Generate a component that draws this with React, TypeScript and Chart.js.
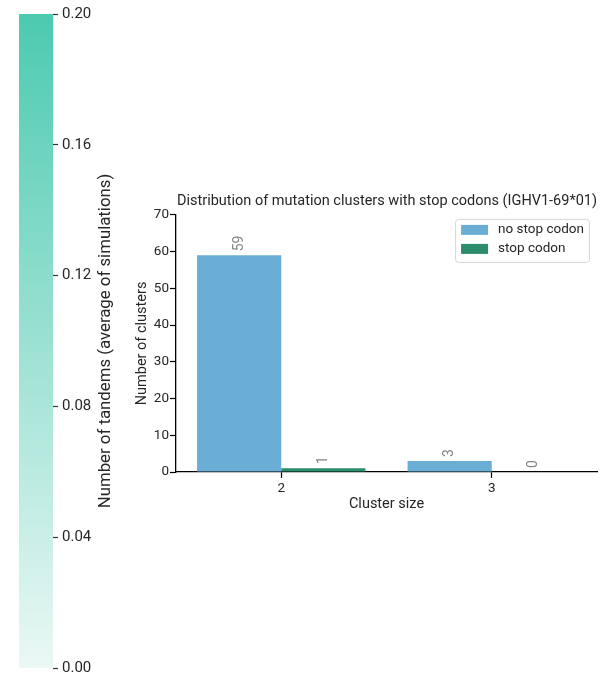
import React, { useEffect, useRef } from 'react';
import { Chart, registerables } from 'chart.js';
Chart.register(...registerables);

const categories = ['2', '3'];
const seriesLabels = ['no stop codon', 'stop codon'];
const noStopValues = [59, 3];
const stopValues = [1, 0];
const seriesColors = ['#6aaed6', '#2c8c6b'];
const yMax = 70;
const yStep = 10;
const chartTitle = 'Distribution of mutation clusters with stop codons (IGHV1-69*01)';
const xTitle = 'Cluster size';
const yTitle = 'Number of clusters';

const colorbarTicks = [0, 0.04, 0.08, 0.12, 0.16, 0.2];
const colorbarMax = 0.2;
const colorbarTitle = 'Number of tandems (average of simulations)';
const colorbarLow = '#eaf8f5';
const colorbarHigh = '#4ccab0';

const FONT = 'Roboto, "Noto Sans", sans-serif';
const TEXT = '#262626';

const valueLabelPlugin = {
  id: 'valueLabels',
  afterDatasetsDraw(chart: any) {
    const c = chart.ctx;
    chart.data.datasets.forEach((ds: any, i: number) => {
      const meta = chart.getDatasetMeta(i);
      meta.data.forEach((el: any, j: number) => {
        c.save();
        c.translate(el.x, el.y - 4);
        c.rotate(-Math.PI / 2);
        c.font = `14px ${FONT}`;
        c.fillStyle = '#858585';
        c.textAlign = 'left';
        c.textBaseline = 'middle';
        c.fillText(String(ds.data[j]), 0, 0);
        c.restore();
      });
    });
  },
};

const boxLegendPlugin = {
  id: 'boxLegend',
  afterDraw(chart: any) {
    const c = chart.ctx;
    const area = chart.chartArea;
    c.save();
    c.font = `13.5px ${FONT}`;
    const labels = chart.data.datasets.map((d: any) => d.label);
    const tw = Math.max(...labels.map((l: string) => c.measureText(l).width));
    const w = 6 + 27 + 10 + tw + 5;
    const h = 43;
    const x = area.right - 8 - w;
    const y = area.top + 4;
    c.fillStyle = 'rgba(255,255,255,0.8)';
    c.strokeStyle = '#d6d6d6';
    c.lineWidth = 1;
    c.beginPath();
    c.roundRect(x + 0.5, y + 0.5, w, h, 3);
    c.fill();
    c.stroke();
    chart.data.datasets.forEach((d: any, i: number) => {
      const cy = y + 11 + i * 19;
      c.fillStyle = d.backgroundColor;
      c.fillRect(x + 6, cy - 5, 27, 10);
      c.fillStyle = TEXT;
      c.textAlign = 'left';
      c.textBaseline = 'middle';
      c.fillText(d.label, x + 6 + 27 + 10, cy);
    });
    c.restore();
  },
};

const colorbarTitlePlugin = {
  id: 'colorbarTitle',
  afterDraw(chart: any) {
    const c = chart.ctx;
    const area = chart.chartArea;
    c.save();
    c.translate(106, (area.top + area.bottom) / 2);
    c.rotate(-Math.PI / 2);
    c.font = `16.8px ${FONT}`;
    c.fillStyle = TEXT;
    c.textAlign = 'center';
    c.textBaseline = 'middle';
    c.fillText(colorbarTitle, 0, 0);
    c.restore();
  },
};

export default function App() {
  const barRef = useRef<HTMLCanvasElement>(null);
  const cbRef = useRef<HTMLCanvasElement>(null);

  useEffect(() => {
    const bar = new Chart(barRef.current as HTMLCanvasElement, {
      type: 'bar',
      data: {
        labels: categories,
        datasets: [
          { label: seriesLabels[0], data: noStopValues, backgroundColor: seriesColors[0], barPercentage: 1, categoryPercentage: 0.8 },
          { label: seriesLabels[1], data: stopValues, backgroundColor: seriesColors[1], barPercentage: 1, categoryPercentage: 0.8 },
        ],
      },
      options: {
        responsive: false,
        animation: false,
        layout: { padding: { left: 130, top: 193, right: 8, bottom: 180 } },
        plugins: {
          legend: { display: false },
          tooltip: { enabled: false },
          title: {
            display: true,
            align: 'end',
            text: chartTitle,
            color: TEXT,
            font: { size: 14.5, family: FONT, weight: 'normal' },
            padding: { top: 0, bottom: 4.5 },
          },
        },
        scales: {
          x: {
            offset: true,
            grid: { offset: false, drawOnChartArea: false, tickLength: 6, color: '#000', tickWidth: 1.2 },
            border: { color: '#000', width: 1.3 },
            ticks: { color: TEXT, font: { size: 13.5, family: FONT }, padding: 3 },
            title: { display: true, text: xTitle, color: TEXT, font: { size: 14.5, family: FONT }, padding: { top: 4, bottom: 4 } },
            afterFit: (s: any) => { s.height = 45; s.paddingLeft = 0; s.paddingRight = 0; },
          },
          y: {
            min: 0,
            max: yMax,
            grid: { drawOnChartArea: false, tickLength: 6, color: '#000', tickWidth: 1.2 },
            border: { color: '#000', width: 1.3 },
            ticks: { stepSize: yStep, color: TEXT, font: { size: 13.5, family: FONT }, padding: 1 },
            title: { display: true, text: yTitle, color: TEXT, font: { size: 14.5, family: FONT }, padding: { top: 4, bottom: 4 } },
            afterFit: (s: any) => { s.width = 46; s.paddingTop = 0; s.paddingBottom = 0; },
          },
        },
      },
      plugins: [valueLabelPlugin, boxLegendPlugin],
    } as any);

    const cb = new Chart(cbRef.current as HTMLCanvasElement, {
      type: 'bar',
      data: {
        labels: [''],
        datasets: [
          {
            data: [colorbarMax],
            barPercentage: 1,
            categoryPercentage: 1,
            borderWidth: 0,
            backgroundColor: (ctx: any) => {
              const { chart } = ctx;
              const area = chart.chartArea;
              if (!area) return colorbarHigh;
              const g = chart.ctx.createLinearGradient(0, area.bottom, 0, area.top);
              g.addColorStop(0, colorbarLow);
              g.addColorStop(1, colorbarHigh);
              return g;
            },
          },
        ],
      },
      options: {
        responsive: false,
        animation: false,
        layout: { padding: { left: 19, top: 14, bottom: 29, right: 0 } },
        plugins: { legend: { display: false }, tooltip: { enabled: false } },
        scales: {
          x: { display: false },
          y: {
            position: 'right',
            min: 0,
            max: colorbarMax,
            afterBuildTicks: (s: any) => { s.ticks = colorbarTicks.map((v) => ({ value: v })); },
            grid: { drawOnChartArea: false, tickLength: 5, color: '#333', tickWidth: 1.2 },
            border: { display: false },
            ticks: { color: TEXT, font: { size: 15, family: FONT }, padding: 4, callback: (v: any) => Number(v).toFixed(2) },
            afterFit: (s: any) => { s.width = 87; s.paddingTop = 0; s.paddingBottom = 0; },
          },
        },
      },
      plugins: [colorbarTitlePlugin],
    } as any);

    return () => {
      bar.destroy();
      cb.destroy();
    };
  }, []);

  return (
    <div style={{ position: 'absolute', left: 0, top: 0, width: 605, height: 697, background: '#fff' }}>
      <canvas ref={cbRef} width={140} height={697} style={{ position: 'absolute', left: 0, top: 0 }} />
      <canvas ref={barRef} width={605} height={697} style={{ position: 'absolute', left: 0, top: 0 }} />
    </div>
  );
}
